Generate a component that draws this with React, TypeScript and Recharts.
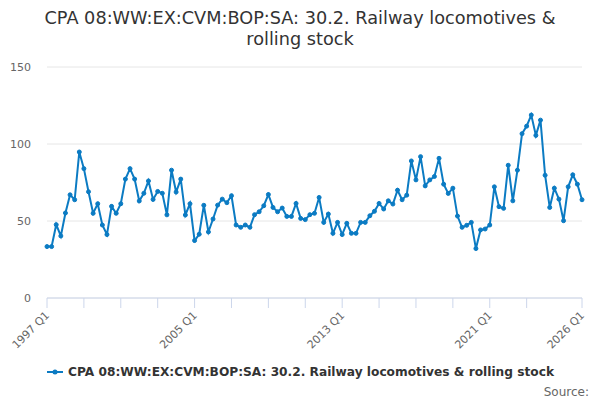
import { LineChart, Line, CartesianGrid, XAxis, YAxis, Legend } from "recharts";

const seriesName = "CPA 08:WW:EX:CVM:BOP:SA: 30.2. Railway locomotives & rolling stock";

// quarterly values, 1997 Q1 .. 2026 Q1
const values = [
  33.4, 33.4, 47.6, 40.3, 55.2, 67, 63.8, 94.8, 84, 69, 55, 61.2,
  47.4, 41.2, 59.5, 55, 61.2, 77.2, 84, 77.2, 63, 68, 76, 64,
  69.2, 68, 54, 83, 68.8, 77.2, 53.9, 61.2, 37.3, 41.4, 60.2, 42.9,
  51.3, 60.3, 64.2, 61.9, 66.4, 47.4, 45.9, 47.4, 45.9, 54.1, 56, 59.9,
  67.2, 58.8, 56, 58.4, 53, 53, 61.4, 51.7, 50.9, 54.1, 55, 65.3,
  49.1, 54.5, 42, 49.1, 41.2, 48.5, 42, 42, 49.1, 49.1, 53.4, 56.3,
  61.4, 57.8, 63.1, 61, 70, 63.8, 66.8, 89, 76.7, 91.8, 72.8, 76.7,
  78.9, 90.7, 73.9, 67.9, 71.3, 53.2, 45.9, 47.2, 49.1, 32.1, 44.2, 44.8,
  47.4, 72.2, 59.3, 58.2, 86.2, 63.1, 83, 106.7, 111.6, 118.8, 105.6, 115.5,
  79.7, 58.8, 71.3, 64.2, 50.2, 72.2, 80, 73.9, 63.8,
];

const startYear = 1997;
const tickIndexes = [0, 8, 16, 24, 32, 40, 48, 56, 64, 72, 80, 88, 96, 104, 116];
const labelIndexes = [0, 32, 64, 96, 116];
const yTicks = [0, 50, 100, 150];

const quarterLabel = (i: number) =>
  `${startYear + Math.floor(i / 4)} Q${(i % 4) + 1}`;

const data = values.map((v, i) => ({ idx: i, quarter: quarterLabel(i), value: v }));

const FONT = "'DejaVu Sans', sans-serif";
const BLUE = "#0b7bc3";

const XTick = (props: any) => {
  const { x, payload } = props;
  if (!labelIndexes.includes(payload.value)) return null;
  const tx = x + 3;
  const ty = 316;
  return (
    <text
      x={tx}
      y={ty}
      transform={`rotate(-45 ${tx} ${ty})`}
      textAnchor="end"
      fill="#666666"
      fontSize={11}
      fontFamily={FONT}
    >
      {quarterLabel(payload.value)}
    </text>
  );
};

const LegendContent = () => (
  <div
    style={{
      display: "flex",
      justifyContent: "center",
      alignItems: "center",
      fontFamily: FONT,
      fontSize: 12.2,
      fontWeight: "bold",
      color: "#333333",
    }}
  >
    <svg width={18} height={12} style={{ marginRight: 4 }}>
      <line x1={1} y1={6} x2={17} y2={6} stroke={BLUE} strokeWidth={2} />
      <circle cx={9} cy={6} r={2.5} fill={BLUE} />
    </svg>
    <span>{seriesName}</span>
  </div>
);

export default function App() {
  return (
    <div
      style={{
        position: "absolute",
        left: 0,
        top: 0,
        width: 600,
        height: 400,
        background: "#fff",
        fontFamily: FONT,
      }}
    >
      <div
        style={{
          position: "absolute",
          top: 8,
          left: 25,
          width: 550,
          textAlign: "center",
          fontSize: 17.7,
          lineHeight: "21px",
          color: "#333333",
        }}
      >
        {seriesName}
      </div>
      <LineChart
        width={600}
        height={400}
        data={data}
        margin={{ top: 67, right: 18, bottom: 0, left: 0 }}
      >
        <CartesianGrid vertical={false} stroke="#e6e6e6" />
        <XAxis
          dataKey="idx"
          type="number"
          domain={[0, 116]}
          ticks={tickIndexes}
          interval={0}
          height={102}
          stroke="#ccd6eb"
          tickSize={10}
          tick={<XTick />}
        />
        <YAxis
          domain={[0, 150]}
          ticks={yTicks}
          width={47}
          axisLine={false}
          tickLine={false}
          tickMargin={10}
          tick={{ fill: "#666666", fontSize: 11, fontFamily: FONT }}
        />
        <Legend
          layout="horizontal"
          verticalAlign="middle"
          align="center"
          wrapperStyle={{ top: 365, left: 0, width: 600 }}
          content={<LegendContent />}
        />
        <Line
          type="linear"
          dataKey="value"
          name={seriesName}
          stroke={BLUE}
          strokeWidth={2}
          dot={{ r: 2, fill: BLUE, stroke: BLUE, strokeWidth: 1 }}
          isAnimationActive={false}
        />
      </LineChart>
      <div
        style={{
          position: "absolute",
          right: 11,
          top: 385,
          fontSize: 12,
          color: "#666666",
        }}
      >
        Source:
      </div>
    </div>
  );
}
